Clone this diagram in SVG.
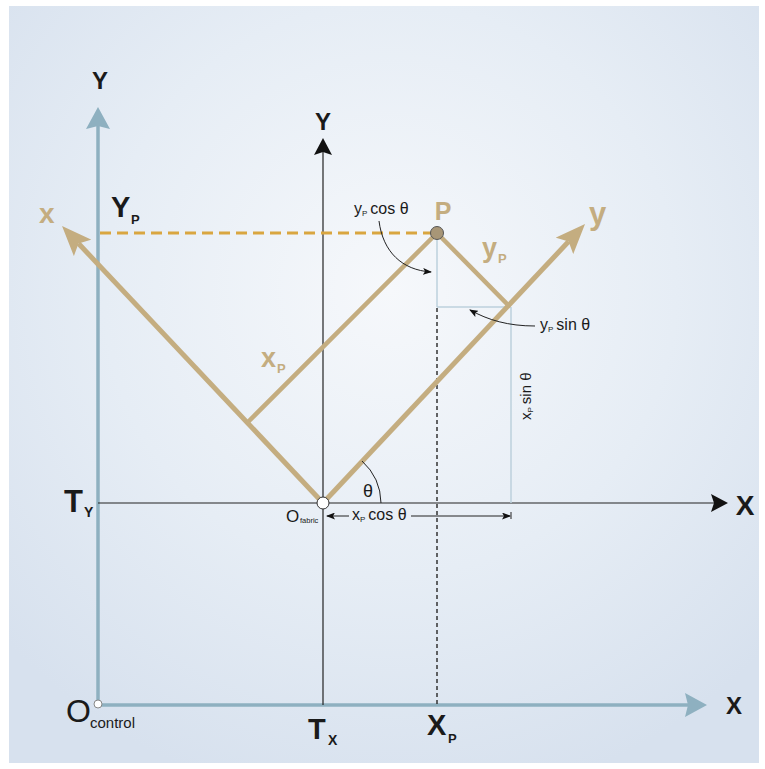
<svg xmlns="http://www.w3.org/2000/svg" width="765" height="769" viewBox="0 0 765 769">
<defs>
<radialGradient id="bg" cx="390" cy="290" r="520" gradientUnits="userSpaceOnUse">
<stop offset="0" stop-color="#f6f8fb"/>
<stop offset="0.55" stop-color="#e6edf5"/>
<stop offset="1" stop-color="#d7e1ee"/>
</radialGradient>
<marker id="ctrlArrow" markerUnits="userSpaceOnUse" viewBox="0 0 22 24" markerWidth="22" markerHeight="24" refX="3" refY="12" orient="auto">
<path d="M0,0 L22,12 L0,24 L3,12 z" fill="#8eb0c0"/>
</marker>
<marker id="blackArrow" markerUnits="userSpaceOnUse" viewBox="0 0 17 18" markerWidth="17" markerHeight="18" refX="3" refY="9" orient="auto">
<path d="M0,0 L17,9 L0,18 L3,9 z" fill="#111"/>
</marker>
<marker id="tanArrow" markerUnits="userSpaceOnUse" viewBox="0 0 30 24" markerWidth="30" markerHeight="24" refX="6" refY="12" orient="auto">
<path d="M0,0 L30,12 L0,24 L6,12 z" fill="#c4ad80"/>
</marker>
<marker id="smallArrow" markerUnits="userSpaceOnUse" viewBox="0 0 9 7" markerWidth="9" markerHeight="7" refX="8" refY="3.5" orient="auto">
<path d="M0,0 L9,3.5 L0,7 L2,3.5 z" fill="#111"/>
</marker>
</defs>
<style>
.ctrl{stroke:#8eb0c0;stroke-width:3.5;fill:none}
.blk{stroke:#222;stroke-width:1.2;fill:none}
.tan{stroke:#c4ad80;stroke-width:5;fill:none}
.tanthin{stroke:#c4ad80;stroke-width:4.5;fill:none}
.lite{stroke:#bcd0dc;stroke-width:1.5;fill:none}
.lbl{font-family:"Liberation Sans",Arial,sans-serif;fill:#1a1a1a}
.b{font-weight:bold}
.t{fill:#c4ad80;font-weight:bold}
</style>
<rect x="9" y="6" width="750" height="757" fill="url(#bg)"/>

<g id="connectors">
<line class="ctrl" x1="98" y1="705" x2="98" y2="126" marker-end="url(#ctrlArrow)"/>
<line class="ctrl" x1="98" y1="705" x2="688" y2="705" marker-end="url(#ctrlArrow)"/>
<line class="blk" x1="98" y1="503" x2="714" y2="503" marker-end="url(#blackArrow)"/>
<line class="blk" x1="323" y1="705" x2="323" y2="152" marker-end="url(#blackArrow)"/>
<line class="lite" x1="437" y1="240" x2="437" y2="307"/>
<line class="lite" x1="437" y1="307" x2="511" y2="307"/>
<line class="lite" x1="511" y1="307" x2="511" y2="503"/>
<line x1="437" y1="308" x2="437" y2="705" stroke="#333" stroke-width="1.5" stroke-dasharray="4 3"/>
<line x1="100" y1="233" x2="431" y2="233" stroke="#d9a640" stroke-width="3" stroke-dasharray="11 6"/>
<line class="tan" x1="323" y1="503" x2="568.6" y2="241.5" marker-end="url(#tanArrow)"/>
<line class="tan" x1="323" y1="503" x2="78.5" y2="243.5" marker-end="url(#tanArrow)"/>
<line class="tanthin" x1="437" y1="233" x2="246" y2="424"/>
<line class="tanthin" x1="437" y1="233" x2="509" y2="306"/>
<path d="M381,503 A58,58 0 0 0 362,461" stroke="#222" stroke-width="1" fill="none"/>
<line x1="349" y1="516" x2="327" y2="516" stroke="#222" stroke-width="1" marker-end="url(#smallArrow)"/>
<line x1="411" y1="516" x2="510" y2="516" stroke="#222" stroke-width="1" marker-end="url(#smallArrow)"/>
<line x1="511" y1="512" x2="511" y2="519" stroke="#222" stroke-width="1"/>
<path d="M379,221 C383,252 402,270 431,272" stroke="#222" stroke-width="1" fill="none" marker-end="url(#smallArrow)"/>
<path d="M535,326 C508,326 488,320 470,310" stroke="#222" stroke-width="1" fill="none" marker-end="url(#smallArrow)"/>
</g>

<g id="node-O-control">
<circle cx="98" cy="704" r="4" fill="#fff" stroke="#888" stroke-width="1"/>
<text class="lbl" x="66" y="722" font-size="32">O</text>
<text class="lbl" x="90" y="728" font-size="15">control</text>
</g>
<g id="node-O-fabric">
<circle cx="323" cy="503" r="6" fill="#fff" stroke="#333" stroke-width="1"/>
<text class="lbl" x="286" y="522" font-size="17">O</text>
<text class="lbl" x="300" y="523" font-size="7.5">fabric</text>
</g>
<g id="node-P">
<circle cx="437" cy="233" r="6.5" fill="#a89677" stroke="#555" stroke-width="1"/>
<text class="lbl t" x="443" y="220" font-size="25" text-anchor="middle">P</text>
</g>

<g id="labels">
<text class="lbl b" x="100" y="89" font-size="24" text-anchor="middle">Y</text>
<text class="lbl b" x="323" y="130" font-size="24" text-anchor="middle">Y</text>
<text class="lbl b" x="734" y="714" font-size="24" text-anchor="middle">X</text>
<text class="lbl b" x="745" y="515" font-size="28" text-anchor="middle">X</text>
<text class="lbl b" x="111" y="217" font-size="29">Y</text>
<text class="lbl b" x="131" y="224" font-size="13">P</text>
<text class="lbl b" x="64" y="512" font-size="31">T</text>
<text class="lbl b" x="84" y="517" font-size="14">Y</text>
<text class="lbl b" x="308" y="739" font-size="29">T</text>
<text class="lbl b" x="328" y="745" font-size="14">X</text>
<text class="lbl b" x="427" y="735" font-size="29">X</text>
<text class="lbl b" x="448" y="743" font-size="13">P</text>
<text class="lbl t" x="39" y="223" font-size="28">x</text>
<text class="lbl t" x="589" y="224" font-size="31">y</text>
<text class="lbl t" x="261" y="367" font-size="27">x</text>
<text class="lbl t" x="277" y="373" font-size="13">P</text>
<text class="lbl t" x="482" y="257" font-size="27">y</text>
<text class="lbl t" x="498" y="263" font-size="13">P</text>
<text class="lbl" x="363" y="497" font-size="18">θ</text>
<text class="lbl" x="352" y="520" font-size="16">x<tspan font-size="8" dy="2">P</tspan><tspan dy="-2" dx="3">cos θ</tspan></text>
<text class="lbl" x="354" y="214" font-size="16">y<tspan font-size="8" dy="2">P</tspan><tspan dy="-2" dx="3">cos θ</tspan></text>
<text class="lbl" x="540" y="330" font-size="16">y<tspan font-size="8" dy="2">P</tspan><tspan dy="-2" dx="3">sin θ</tspan></text>
<text class="lbl" transform="translate(531,420) rotate(-90)" font-size="15">x<tspan font-size="8" dy="2">P</tspan><tspan dy="-2" dx="3">sin θ</tspan></text>
</g>
</svg>
